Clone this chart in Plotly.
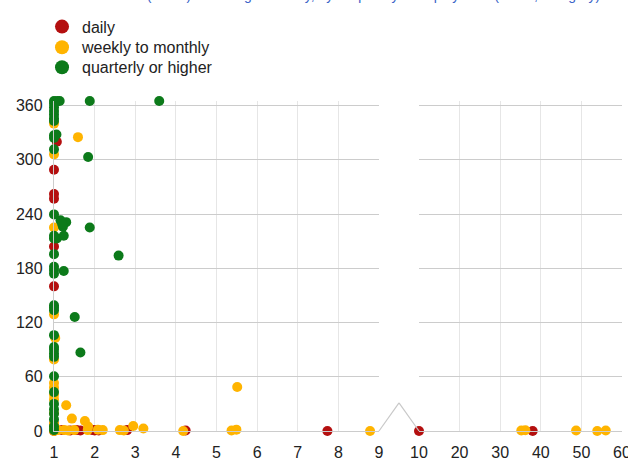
import plotly.graph_objects as go

# ---- data ----
daily_x = [1.07, 1.0, 1.0, 1.0, 1.0, 1.0, 1.0, 1.0, 1.2, 1.4, 1.55, 1.65, 1.95, 2.0, 2.05, 2.1, 2.8, 4.24, 7.73, 10, 38]
daily_y = [320, 289, 262, 257, 204, 160, 8, 0, 1, 0.5, 1, 0.5, 1, 0.5, 1, 0.5, 1, 0.5, 0, 0, 0]

weekly_x = [1.0, 1.0, 1.0, 1.0, 1.03, 1.0, 1.0, 1.0, 1.0, 1.0, 1.0, 1.0, 1.0, 1.0,
            1.59, 1.3, 1.44, 1.76, 1.84, 1.83, 1.1, 1.25, 1.35, 1.5, 2.08, 2.2, 2.62, 2.72,
            2.95, 3.2, 4.18, 5.37, 5.49, 5.51, 8.78, 35.2, 36.2, 48.7, 53.9, 56]
weekly_y = [340, 306, 225, 129, 103, 79, 53, 48, 40, 35, 20, 8, 3, 0,
            325, 28.5, 13.7, 11, 5, 1, 1, 1, 0.5, 1, 1.5, 1, 1, 0.5,
            5.5, 2.7, 0, 0.5, 1.5, 48.7, 0, 0.5, 0.8, 0.5, 0, 0.5]

quarterly_x = [1.0, 1.0, 1.0, 1.0, 1.0, 1.0, 1.0, 1.0, 1.0, 1.0, 1.0, 1.0, 1.0, 1.0, 1.0,
               1.0, 1.0, 1.0, 1.0, 1.0, 1.0, 1.0, 1.0, 1.0, 1.0, 1.0, 1.0, 1.0, 1.0, 1.0,
               1.0, 1.0, 1.0,
               1.08, 1.14, 1.88, 3.59, 1.06, 1.84, 1.16, 1.3, 1.22, 1.2, 1.88, 1.07, 1.24,
               2.59, 1.24, 1.51, 1.65]
quarterly_y = [365, 362, 358, 354, 350, 346, 343, 327, 324, 311.5, 239.6, 216, 213, 195.6,
               181.6, 178, 174, 139, 136.6, 133.6, 106, 93, 90, 85.7, 82, 60.5, 43, 30,
               24, 19, 13, 5, 1,
               365, 365, 365, 365, 328, 303, 233, 231, 226, 229, 225, 213, 216,
               194, 177, 126, 86.8]

series_names = ["daily", "weekly to monthly", "quarterly or higher"]
series_colors = ["#b40f0f", "#ffb400", "#0c7a1a"]

left_ticks = [1, 2, 3, 4, 5, 6, 7, 8, 9]
right_ticks = [10, 20, 30, 40, 50, 60]
y_ticks = [0, 60, 120, 180, 240, 300, 360]

title_text = "Time to restore service (hours) vs. outage severity, by frequency of deployment (hours, category)"

# ---- split points between the two panels of the broken axis ----
BREAK = 9.5
series = [(daily_x, daily_y), (weekly_x, weekly_y), (quarterly_x, quarterly_y)]

fig = go.Figure()
for (xs, ys), name, color in zip(series, series_names, series_colors):
    lx = [x for x in xs if x <= BREAK]
    ly = [y for x, y in zip(xs, ys) if x <= BREAK]
    rx = [x for x in xs if x > BREAK]
    ry = [y for x, y in zip(xs, ys) if x > BREAK]
    fig.add_trace(go.Scatter(x=lx, y=ly, mode="markers", name=name, legendgroup=name,
                             showlegend=False,
                             marker=dict(color=color, size=10, line=dict(width=0)),
                             xaxis="x", yaxis="y", cliponaxis=False))
    fig.add_trace(go.Scatter(x=rx, y=ry, mode="markers", name=name, legendgroup=name,
                             showlegend=False,
                             marker=dict(color=color, size=10, line=dict(width=0)),
                             xaxis="x2", yaxis="y2", cliponaxis=False))

# legend-only entries (larger legend symbols), one legend box per row for tight spacing
legend_ids = ["legend", "legend2", "legend3"]
for name, color, lid in zip(series_names, series_colors, legend_ids):
    fig.add_trace(go.Scatter(x=[None], y=[None], mode="markers", name=name, legendgroup=name,
                             legend=lid,
                             marker=dict(color=color, size=14, line=dict(width=0)),
                             xaxis="x", yaxis="y"))

LEFT_DOM = [0, 0.5722]
RIGHT_DOM = [0.6426, 1]
font_family = "Liberation Sans, Arial, sans-serif"
tick_font = dict(family=font_family, size=16, color="#222222")

common_x = dict(showgrid=True, gridcolor="#e6e6e6", gridwidth=1, zeroline=False,
                showline=True, linecolor="#cccccc", linewidth=1.3, ticks="",
                tickfont=tick_font, ticklabelstandoff=7, automargin=False,
                ticklabeloverflow="allow")
common_y = dict(range=[0, 365], tickvals=y_ticks, showgrid=True, gridcolor="#cccccc",
                gridwidth=1, zeroline=False, ticks="", automargin=False)

legend_font = dict(family=font_family, size=16, color="#222222")
legend_common = dict(x=-0.0211, xanchor="left", yanchor="top", itemsizing="trace",
                     font=legend_font, bgcolor="rgba(0,0,0,0)", tracegroupgap=0)

fig.update_layout(
    width=628, height=462,
    margin=dict(l=54, r=6, t=101, b=31),
    paper_bgcolor="white", plot_bgcolor="white",
    font=dict(family=font_family, size=16, color="#222222"),
    xaxis=dict(domain=LEFT_DOM, range=[1, 9], tickvals=left_ticks, anchor="y", **common_x),
    xaxis2=dict(domain=RIGHT_DOM, range=[10, 60], tickvals=right_ticks, anchor="y2", **common_x),
    yaxis=dict(anchor="x", showline=True, linecolor="#cccccc", linewidth=1.3,
               tickfont=tick_font, ticklabelstandoff=7, **common_y),
    yaxis2=dict(anchor="x2", matches="y", showticklabels=False, showline=False, **common_y),
    legend=dict(y=1.2767, **legend_common),
    legend2=dict(y=1.2142, **legend_common),
    legend3=dict(y=1.1536, **legend_common),
    showlegend=True,
)

# zig-zag break marker on the baseline
peak_x = (LEFT_DOM[1] + RIGHT_DOM[0]) / 2
peak_y = 0.085
fig.add_shape(type="line", xref="paper", yref="paper", x0=LEFT_DOM[1], y0=0, x1=peak_x, y1=peak_y,
              line=dict(color="#c8c8c8", width=1.2))
fig.add_shape(type="line", xref="paper", yref="paper", x0=peak_x, y0=peak_y, x1=RIGHT_DOM[0], y1=0,
              line=dict(color="#c8c8c8", width=1.2))

# title, mostly above the visible page (as in the reference)
fig.add_annotation(text=title_text, xref="paper", yref="paper", x=-0.097, y=1.2924,
                   xanchor="left", yanchor="bottom", showarrow=False,
                   font=dict(family=font_family, size=14, color="#3b64c8"))

fig.write_html("out.html", config={"displayModeBar": False},
               post_script="document.body.style.margin='0';")
